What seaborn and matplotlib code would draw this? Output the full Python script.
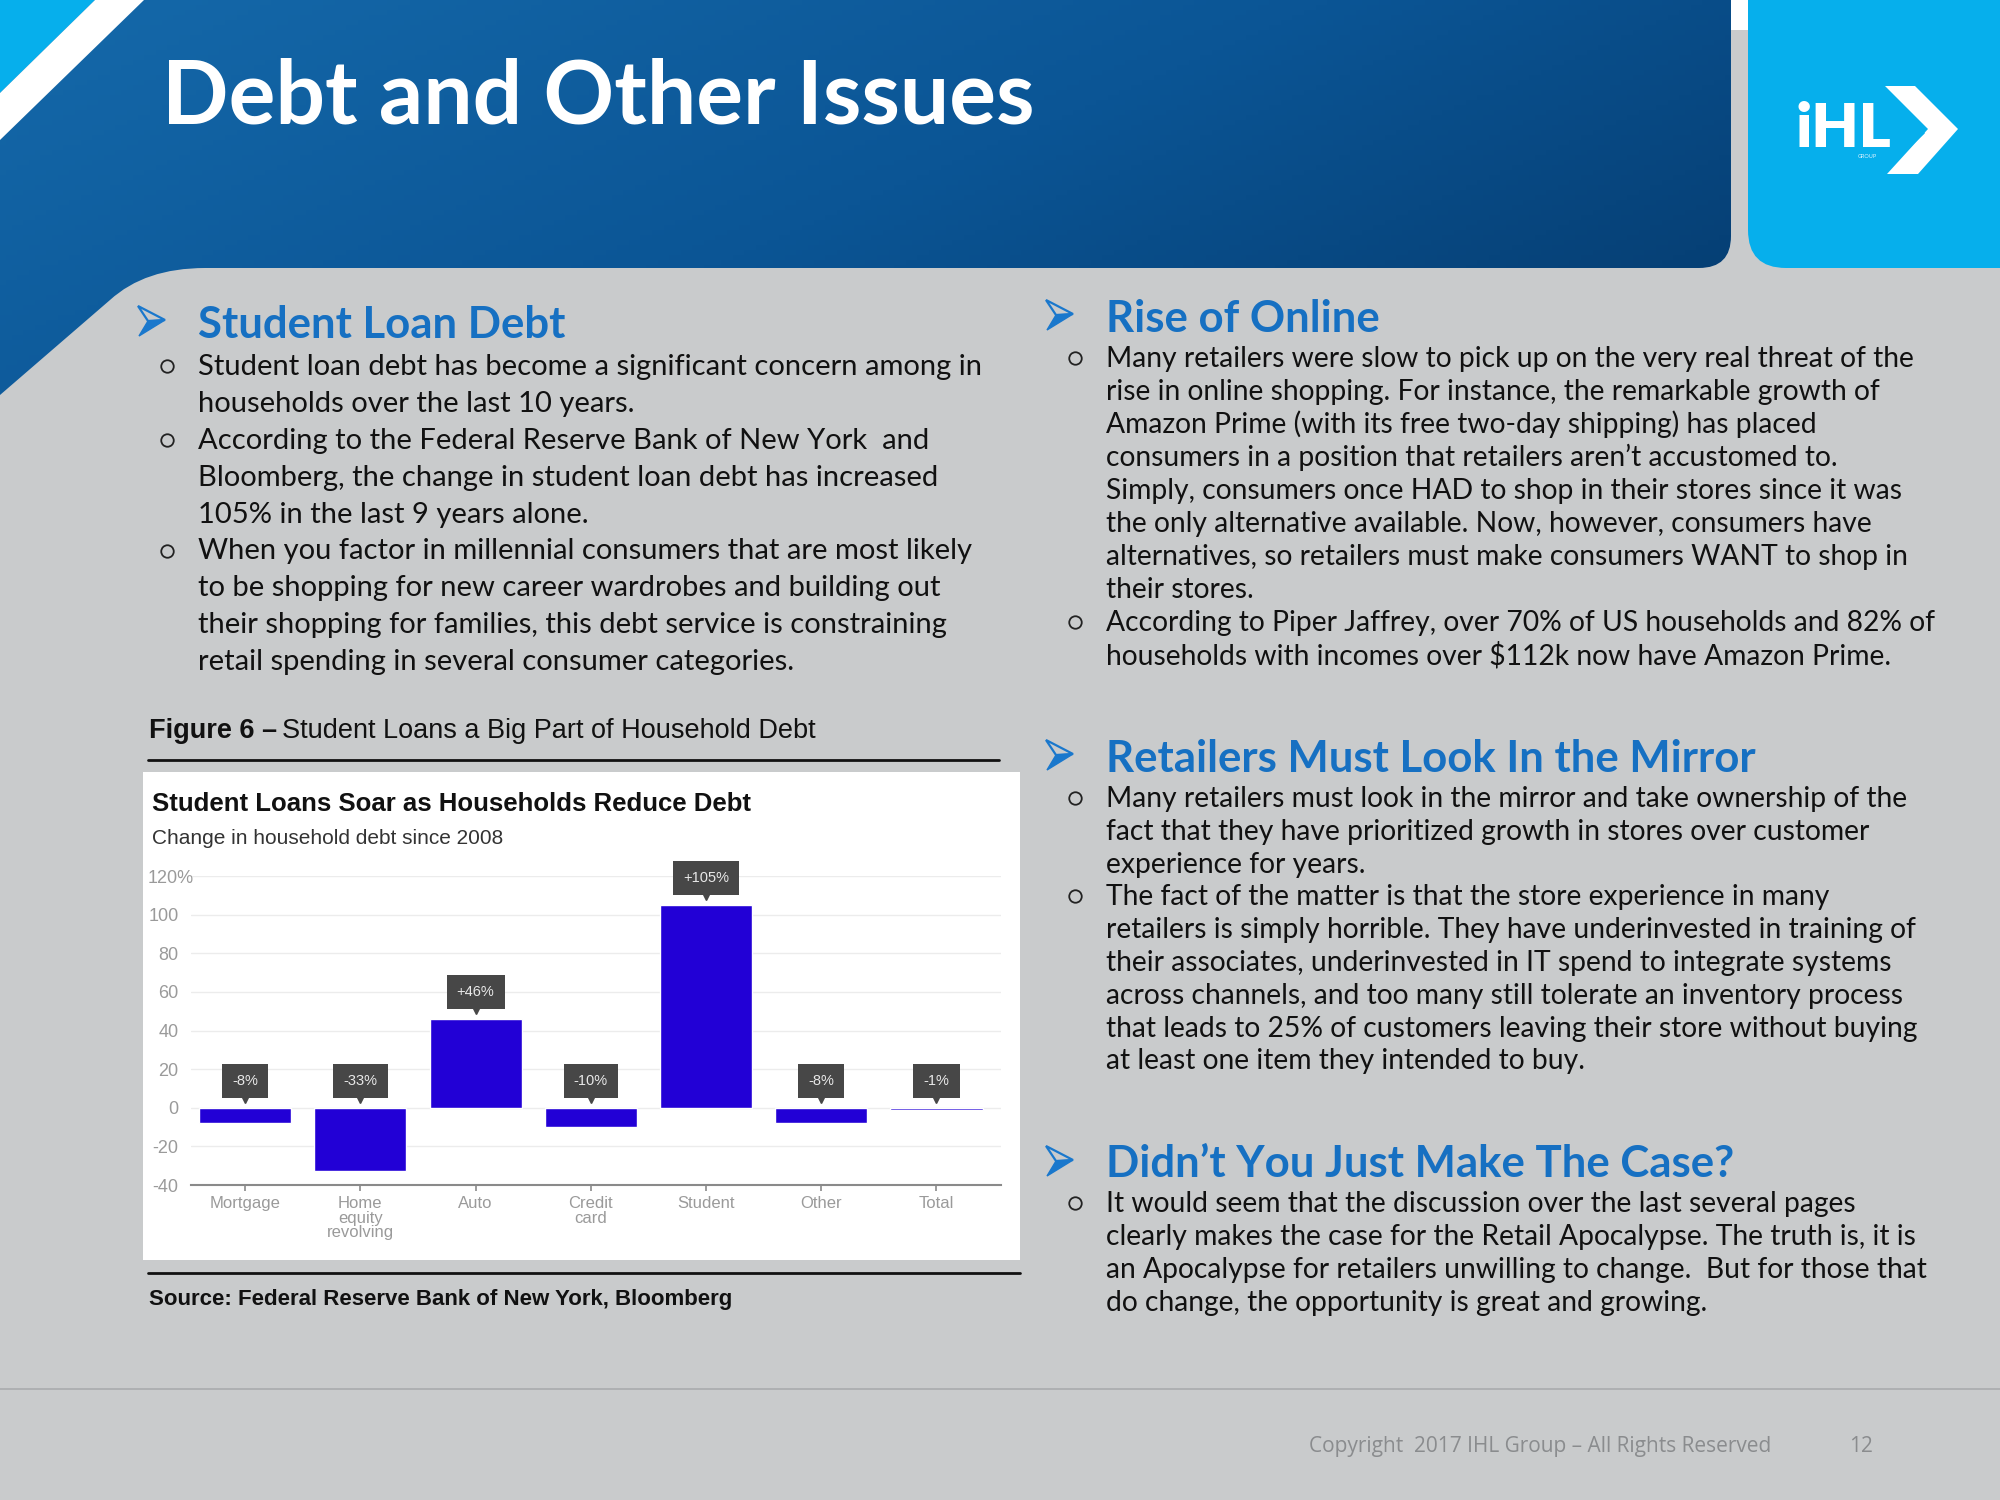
import numpy as np
import pandas as pd
import seaborn as sns
import matplotlib.pyplot as plt
from matplotlib.patches import Polygon, Rectangle, FancyBboxPatch, PathPatch
from matplotlib.path import Path
from matplotlib.colors import LinearSegmentedColormap
from matplotlib.transforms import ScaledTranslation

# Chart data: change in household debt since 2008 (%)
categories = ["Mortgage", "Home\nequity\nrevolving", "Auto", "Credit\ncard",
              "Student", "Other", "Total"]
change_pct = [-8, -33, 46, -10, 105, -8, -1]
change_labels = ["-8%", "-33%", "+46%", "-10%", "+105%", "-8%", "-1%"]
y_ticks = [-40, -20, 0, 20, 40, 60, 80, 100, 120]
y_tick_labels = ["-40", "-20", "0", "20", "40", "60", "80", "100", "120%"]

# Slide text
slide_title = "Debt and Other Issues"
left_heading = "Student Loan Debt"
left_lines = [
    ("Student loan debt has become a significant concern among in", True),
    ("households over the last 10 years.", False),
    ("According to the Federal Reserve Bank of New York  and", True),
    ("Bloomberg, the change in student loan debt has increased", False),
    ("105% in the last 9 years alone.", False),
    ("When you factor in millennial consumers that are most likely", True),
    ("to be shopping for new career wardrobes and building out", False),
    ("their shopping for families, this debt service is constraining", False),
    ("retail spending in several consumer categories.", False),
]
online_heading = "Rise of Online"
online_lines = [
    ("Many retailers were slow to pick up on the very real threat of the", True),
    ("rise in online shopping. For instance, the remarkable growth of", False),
    ("Amazon Prime (with its free two-day shipping) has placed", False),
    ("consumers in a position that retailers aren\u2019t accustomed to.", False),
    ("Simply, consumers once HAD to shop in their stores since it was", False),
    ("the only alternative available. Now, however, consumers have", False),
    ("alternatives, so retailers must make consumers WANT to shop in", False),
    ("their stores.", False),
    ("According to Piper Jaffrey, over 70% of US households and 82% of", True),
    ("households with incomes over $112k now have Amazon Prime.", False),
]
mirror_heading = "Retailers Must Look In the Mirror"
mirror_lines = [
    ("Many retailers must look in the mirror and take ownership of the", True),
    ("fact that they have prioritized growth in stores over customer", False),
    ("experience for years.", False),
    ("The fact of the matter is that the store experience in many", True),
    ("retailers is simply horrible. They have underinvested in training of", False),
    ("their associates, underinvested in IT spend to integrate systems", False),
    ("across channels, and too many still tolerate an inventory process", False),
    ("that leads to 25% of customers leaving their store without buying", False),
    ("at least one item they intended to buy.", False),
]
case_heading = "Didn\u2019t You Just Make The Case?"
case_lines = [
    ("It would seem that the discussion over the last several pages", True),
    ("clearly makes the case for the Retail Apocalypse. The truth is, it is", False),
    ("an Apocalypse for retailers unwilling to change.  But for those that", False),
    ("do change, the opportunity is great and growing.", False),
]
chart_title = "Student Loans Soar as Households Reduce Debt"
chart_subtitle = "Change in household debt since 2008"
fig_caption_bold = "Figure 6 \u2013"
fig_caption = "Student Loans a Big Part of Household Debt"
source_text = "Source: Federal Reserve Bank of New York, Bloomberg"
footer_text = "Copyright  2017 IHL Group \u2013 All Rights Reserved"
page_no = "12"

# Colours
BG = "#c9cbcc"
HEAD_BLUE = "#1670c2"
ARROW = "#1a78cc"
CYAN = "#06afec"
BAR = "#2200d6"

sns.set_theme(style="white")
plt.rcParams["font.family"] = ["Lato", "DejaVu Sans"]

fig = plt.figure(figsize=(20, 15), dpi=100)
fig.patch.set_facecolor(BG)

# Background axes in pixel coordinates (y downwards)
bg = fig.add_axes([0, 0, 1, 1])
bg.set_facecolor(BG)
bg.axis("off")
bg.set_xlim(0, 2000)
bg.set_ylim(1500, 0)

# Header band with gradient
hdr_verts = [(0, 0), (1731, 0), (1731, 236), (1731, 268), (1699, 268),
             (205, 268), (145, 268), (110, 300), (0, 395), (0, 0)]
hdr_codes = [Path.MOVETO, Path.LINETO, Path.LINETO, Path.CURVE3, Path.CURVE3,
             Path.LINETO, Path.CURVE3, Path.CURVE3, Path.LINETO, Path.CLOSEPOLY]
hdr_patch = PathPatch(Path(hdr_verts, hdr_codes), facecolor="none",
                      edgecolor="none", transform=bg.transData)
bg.add_patch(hdr_patch)
gx, gy = np.meshgrid(np.linspace(0, 1, 300), np.linspace(0, 1, 80))
hdr_cmap = LinearSegmentedColormap.from_list("hdr", ["#1569aa", "#0b5595", "#04396b"])
im = bg.imshow(0.65 * gx + 0.35 * gy, extent=(0, 1731, 400, 0), cmap=hdr_cmap,
               aspect="auto", zorder=1)
im.set_clip_path(hdr_patch)

# Corner accents
bg.add_patch(Polygon([(0, 0), (95, 0), (0, 93)], closed=True, fc=CYAN, ec="none", zorder=2))
bg.add_patch(Polygon([(95, 0), (144, 0), (0, 140), (0, 93)], closed=True,
                     fc="white", ec="none", zorder=2))
bg.add_patch(Rectangle((1731, 0), 17, 30, fc="white", ec="none", zorder=2))
bg.add_patch(FancyBboxPatch((1748, -80), 400, 348, boxstyle="round,pad=0,rounding_size=38",
                            fc=CYAN, ec="none", zorder=2))

# Logo
bg.text(1796, 147, "iHL", color="white", fontsize=44, fontweight="heavy",
        ha="left", va="baseline", zorder=3)
bg.add_patch(Polygon([(1885, 86), (1915, 86), (1958, 129), (1918, 174), (1887, 174), (1928, 129)],
                     closed=True, fc="white", ec="none", zorder=3))
bg.plot([1887, 1924], [168, 133], color=CYAN, lw=1.2, zorder=4)
bg.text(1858, 158, "GROUP", color="#d8f2ff", fontsize=4, zorder=3)

# Title
bg.text(162, 124, slide_title, color="white", fontsize=63, fontweight="bold",
        ha="left", va="baseline", zorder=3)


def bullet_arrow(x, y):
    upper = [(x, y - 15), (x + 27, y - 1), (x + 10, y)]
    lower = [(x + 10, y), (x + 27, y - 1), (x + 1, y + 15)]
    bg.add_patch(Polygon(upper, closed=True, fc=BG, ec=ARROW, lw=1.6, zorder=3))
    bg.add_patch(Polygon(lower, closed=True, fc=ARROW, ec=ARROW, lw=1, zorder=3))


def section(x_arrow, y_arrow, x_text, y_head, heading, lines, y0, step, size, x_dot):
    bullet_arrow(x_arrow, y_arrow)
    bg.text(x_text, y_head, heading, color=HEAD_BLUE, fontsize=31.5, fontweight="bold",
            ha="left", va="baseline", zorder=3)
    for i, (txt, is_bullet) in enumerate(lines):
        yb = y0 + i * step
        bg.text(x_text, yb, txt, color="#111111", fontsize=size,
                ha="left", va="baseline", zorder=3)
        if is_bullet:
            bg.plot(x_dot, yb - 9, marker="o", ms=9, mfc="none", mec="#222222",
                    mew=1.3, zorder=3)


section(138, 321, 198, 338, left_heading, left_lines, 375, 36.9, 21, 167)
section(1046, 315, 1106, 332, online_heading, online_lines, 367, 33.0, 20.3, 1075)
section(1046, 755, 1106, 772, mirror_heading, mirror_lines, 807, 32.8, 20.3, 1075)
section(1046, 1161, 1106, 1177, case_heading, case_lines, 1212, 33.0, 20.3, 1075)

# Figure caption, rules, source
renderer = fig.canvas.get_renderer()
cap_bold = bg.text(149, 738, fig_caption_bold, color="#111111", fontsize=19.5, fontweight="bold",
                   family="Liberation Sans", ha="left", va="baseline", zorder=3)
bb = cap_bold.get_window_extent(renderer).transformed(bg.transData.inverted())
bg.text(bb.x1 + 5, 738, fig_caption, color="#111111", fontsize=19.5,
        family="Liberation Sans", ha="left", va="baseline", zorder=3)
bg.plot([148, 999], [760, 760], color="#111111", lw=2, zorder=3)
bg.add_patch(Rectangle((143, 772), 877, 488, fc="white", ec="none", zorder=2))
bg.plot([148, 1020], [1273, 1273], color="#111111", lw=2, zorder=3)
bg.text(149, 1305, source_text, color="#111111", fontsize=16, fontweight="bold",
        family="Liberation Sans", ha="left", va="baseline", zorder=3)

# Chart title inside white box
bg.text(152, 811, chart_title, color="#111111", fontsize=18.5, fontweight="bold",
        family="Liberation Sans", ha="left", va="baseline", zorder=3)
bg.text(152, 844, chart_subtitle, color="#333333", fontsize=15,
        family="Liberation Sans", ha="left", va="baseline", zorder=3)

# Footer
bg.plot([0, 2000], [1389, 1389], color="#a9abad", lw=1.2, zorder=3)
bg.text(1309, 1452, footer_text, color="#8a8c8e", fontsize=15, family="Open Sans",
        ha="left", va="baseline", zorder=3)
bg.text(1849, 1452, page_no, color="#8a8c8e", fontsize=15, family="Open Sans",
        ha="left", va="baseline", zorder=3)

bg.set_xlim(0, 2000)
bg.set_ylim(1500, 0)

# Bar chart
df = pd.DataFrame({"category": categories, "change": change_pct})
ax = fig.add_axes([191 / 2000, 1 - 1185 / 1500, 810 / 2000, 309 / 1500])
ax.set_facecolor("none")
sns.barplot(data=df, x="category", y="change", color=BAR, saturation=1,
            width=0.8, ax=ax, zorder=2)
ax.set_ylim(-40, 120)
ax.set_xlim(-0.47, 6.56)
ax.set_yticks(y_ticks)
ax.set_yticklabels(y_tick_labels, family="Liberation Sans")
ax.set_xlabel("")
ax.set_ylabel("")
ax.yaxis.grid(True, color="#ececec", lw=1)
ax.set_axisbelow(True)
for s in ["left", "right", "top"]:
    ax.spines[s].set_visible(False)
ax.spines["bottom"].set_color("#8a8a8a")
ax.spines["bottom"].set_linewidth(1.5)
ax.tick_params(axis="y", length=0, labelsize=13, labelcolor="#9a9a9a", pad=9)
ax.tick_params(axis="x", bottom=True, length=4, width=1.2, color="#8a8a8a",
               labelsize=12, labelcolor="#9a9a9a", pad=4)
for lbl in ax.get_xticklabels():
    lbl.set_family("Liberation Sans")
    lbl.set_linespacing(0.95)

# "%" on the top label hangs past the other numbers
top_lbl = ax.get_yticklabels()[-1]
top_lbl.set_transform(top_lbl.get_transform() + ScaledTranslation(0.15, 0, fig.dpi_scale_trans))

for i, (v, lab) in enumerate(zip(change_pct, change_labels)):
    base = max(v, 0)
    ax.text(i, base + 14, lab, ha="center", va="center", color="#e8e8e8",
            fontsize=10.5, family="Liberation Sans", clip_on=False, zorder=5,
            bbox=dict(boxstyle="square,pad=0.7", fc="#474747", ec="none"))
    ax.plot(i, base + 4, marker="v", color="#474747", ms=4.5, clip_on=False, zorder=5)

fig.savefig("out.png", dpi=100, facecolor=BG)
